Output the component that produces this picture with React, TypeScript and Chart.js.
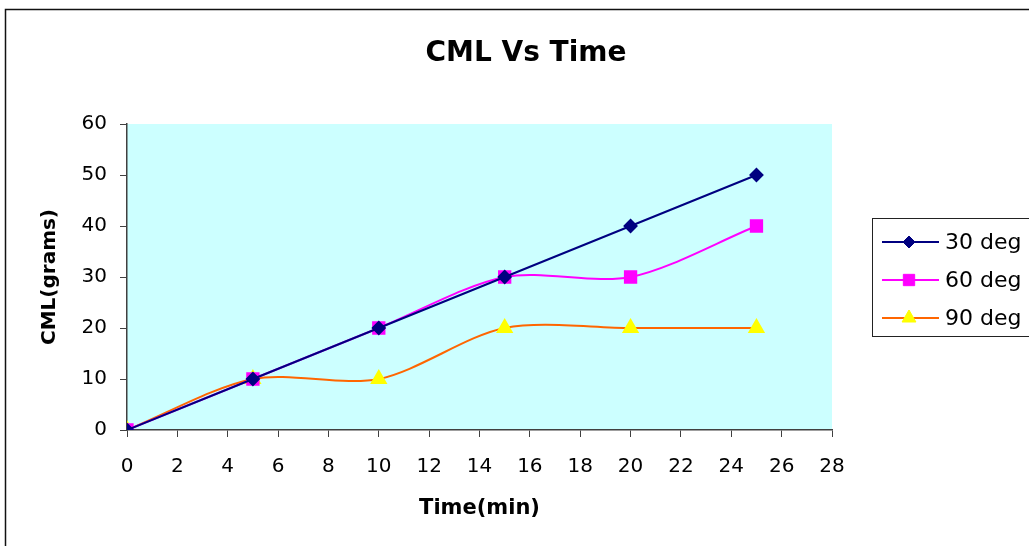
import React, { useEffect, useRef } from "react";
import { Chart, registerables } from "chart.js";

Chart.register(...registerables);

const timeMin = [0, 5, 10, 15, 20, 25];
const deg30 = [0, 10, 20, 30, 40, 50];
const deg60 = [0, 10, 20, 30, 30, 40];
const deg90 = [0, 10, 10, 20, 20, 20];
const seriesLabels = ["30 deg", "60 deg", "90 deg"];
const titleText = "CML Vs Time";
const xTitle = "Time(min)";
const yTitle = "CML(grams)";

const FONT = "'DejaVu Sans', 'Liberation Sans', Arial, sans-serif";
const AXIS = "#404040";

const bgPlugin = {
  id: "bgFrame",
  beforeDraw(chart: any) {
    const { ctx, chartArea } = chart;
    ctx.save();
    ctx.fillStyle = "#ffffff";
    ctx.fillRect(0, 0, chart.width, chart.height);
    ctx.strokeStyle = "#111111";
    ctx.lineWidth = 1.5;
    ctx.strokeRect(5.5, 9.5, 3000, 3000);
    ctx.fillStyle = "#ccffff";
    ctx.fillRect(chartArea.left, chartArea.top, chartArea.right - chartArea.left, chartArea.bottom - chartArea.top);
    ctx.fillStyle = "#000000";
    ctx.font = `bold 28px ${FONT}`;
    ctx.textAlign = "center";
    ctx.textBaseline = "middle";
    ctx.fillText(chart.options.plugins.customTitle.text, 526, 54);
    ctx.restore();
  },
};

function drawMarker(ctx: CanvasRenderingContext2D, style: string, x: number, y: number, r: number) {
  ctx.beginPath();
  if (style === "rectRot") {
    ctx.moveTo(x, y - r);
    ctx.lineTo(x + r, y);
    ctx.lineTo(x, y + r);
    ctx.lineTo(x - r, y);
  } else if (style === "rect") {
    const s = Math.SQRT1_2 * r;
    ctx.rect(x - s, y - s, 2 * s, 2 * s);
  } else {
    ctx.moveTo(x, y - r);
    ctx.lineTo(x + (r * Math.sqrt(3)) / 2, y + r / 2);
    ctx.lineTo(x - (r * Math.sqrt(3)) / 2, y + r / 2);
  }
  ctx.closePath();
  ctx.fill();
  ctx.stroke();
}

const legendPlugin = {
  id: "customLegend",
  afterDraw(chart: any) {
    const { ctx } = chart;
    const boxX = 872.5;
    const boxY = 218.5;
    const boxW = 300;
    const boxH = 118;
    ctx.save();
    ctx.fillStyle = "#ffffff";
    ctx.fillRect(boxX, boxY, boxW, boxH);
    ctx.strokeStyle = "#222222";
    ctx.lineWidth = 1;
    ctx.strokeRect(boxX, boxY, boxW, boxH);
    const rows = [242, 280, 318];
    chart.data.datasets.forEach((ds: any, i: number) => {
      const y = rows[i];
      ctx.strokeStyle = ds.borderColor;
      ctx.lineWidth = 2;
      ctx.beginPath();
      ctx.moveTo(882, y);
      ctx.lineTo(939, y);
      ctx.stroke();
      ctx.fillStyle = ds.pointBackgroundColor;
      ctx.strokeStyle = ds.pointBorderColor;
      ctx.lineWidth = 1;
      drawMarker(ctx, ds.pointStyle, 909, y, ds.pointRadius);
      ctx.fillStyle = "#000000";
      ctx.font = `22px ${FONT}`;
      ctx.textAlign = "left";
      ctx.textBaseline = "middle";
      ctx.fillText(ds.label, 945, y + 1);
    });
    ctx.restore();
  },
};

export default function App() {
  const ref = useRef<HTMLCanvasElement | null>(null);
  useEffect(() => {
    document.body.style.margin = "0";
    if (!ref.current) return;
    const toXY = (ys: number[]) => timeMin.map((x, i) => ({ x, y: ys[i] }));
    const chart = new Chart(ref.current, {
      type: "line",
      data: {
        datasets: [
          {
            label: seriesLabels[0],
            data: toXY(deg30),
            borderColor: "#000080",
            backgroundColor: "#000080",
            pointBackgroundColor: "#000080",
            pointBorderColor: "#000080",
            pointStyle: "rectRot",
            pointRadius: 6,
            borderWidth: 2,
            tension: 0,
          },
          {
            label: seriesLabels[1],
            data: toXY(deg60),
            borderColor: "#ff00ff",
            backgroundColor: "#ff00ff",
            pointBackgroundColor: "#ff00ff",
            pointBorderColor: "#ff00ff",
            pointStyle: "rect",
            pointRadius: 8,
            borderWidth: 2,
            tension: 0.3,
          },
          {
            label: seriesLabels[2],
            data: toXY(deg90),
            borderColor: "#ff6600",
            backgroundColor: "#ffff00",
            pointBackgroundColor: "#ffff00",
            pointBorderColor: "#ffff00",
            pointStyle: "triangle",
            pointRadius: 8,
            borderWidth: 2,
            tension: 0.3,
          },
        ] as any,
      },
      options: {
        responsive: false,
        animation: false,
        layout: { padding: { top: 124, left: 0, right: 197, bottom: 0 } },
        plugins: {
          legend: { display: false },
          tooltip: { enabled: false },
          title: { display: false },
          customTitle: { text: titleText },
        },
        scales: {
          x: {
            type: "linear",
            min: 0,
            max: 28,
            ticks: {
              stepSize: 2,
              color: "#000000",
              font: { family: FONT, size: 20 },
              padding: 18,
              maxRotation: 0,
            },
            grid: { drawOnChartArea: false, drawTicks: true, tickLength: 7, color: AXIS },
            border: { display: true, color: AXIS, width: 1.5 },
            title: {
              display: true,
              text: xTitle,
              color: "#000000",
              font: { family: FONT, size: 21, weight: "bold" },
              padding: { top: 0, bottom: 24.4 },
            },
            afterFit: (scale: any) => {
              scale.height = 116;
            },
          },
          y: {
            type: "linear",
            min: 0,
            max: 60,
            ticks: {
              stepSize: 10,
              color: "#000000",
              font: { family: FONT, size: 20 },
              padding: 13,
            },
            grid: { drawOnChartArea: false, drawTicks: true, tickLength: 7, color: AXIS },
            border: { display: true, color: AXIS, width: 1.5 },
            title: {
              display: true,
              text: yTitle,
              color: "#000000",
              font: { family: FONT, size: 20, weight: "bold" },
              padding: { top: 38, bottom: 0 },
            },
            afterFit: (scale: any) => {
              scale.width = 127;
            },
          },
        },
      } as any,
      plugins: [bgPlugin, legendPlugin],
    });
    return () => chart.destroy();
  }, []);
  return <canvas ref={ref} width={1029} height={546} style={{ display: "block" }} />;
}
